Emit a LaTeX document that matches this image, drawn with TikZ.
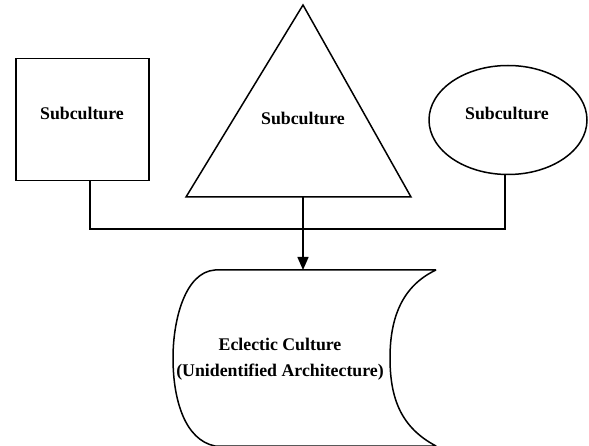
\documentclass[tikz,border=0pt]{standalone}
\usepackage{fontspec}
\setmainfont{Liberation Serif}
\usetikzlibrary{shapes.geometric,arrows.meta}
\begin{document}
\begin{tikzpicture}[x=1pt,y=-1pt,
  shp/.style={draw=black,line width=1.5pt},
  lbl/.style={font=\bfseries\fontsize{17.8}{26}\selectfont,align=center},
  conn/.style={line width=1.5pt},
]
\useasboundingbox (0,0) rectangle (589,446);
% square
\node[shp,rectangle,minimum width=133pt,minimum height=122pt,anchor=north west] (sq) at (15,58) {};
\node[lbl] (sqt) at (82,113) {Subculture};
% triangle
\coordinate (tapex) at (303,5);
\coordinate (tl) at (186,197);
\coordinate (tr) at (411,197);
\coordinate (tb) at (303,197);
\draw[shp,line join=miter] (tapex) -- (tr) -- (tl) -- cycle;
\node[lbl] (trt) at (303,118) {Subculture};
% ellipse
\node[shp,ellipse,minimum width=158pt,minimum height=109pt] (el) at (508,120) {};
\node[lbl] (elt) at (507,113) {Subculture};
% document shape
\coordinate (dtl) at (215,270);
\coordinate (dtr) at (436,270);
\coordinate (dbl) at (215,446);
\coordinate (dbr) at (436,446);
\coordinate (doctop) at (303,270);
\draw[shp,line join=round] (dtr) -- (dtl)
  .. controls (185,272) and (173,320) .. (173,358)
  .. controls (173,400) and (185,440) .. (dbl) -- (dbr)
  .. controls (402,428) and (390,400) .. (390,358)
  .. controls (390,318) and (402,286) .. (dtr);
\node[lbl] (doct) at (280,359) {Eclectic Culture\\(Unidentified Architecture)};
% connectors
\coordinate (jl) at (90,229);
\coordinate (jr) at (505,229);
\draw[conn] (sq.south -| jl) -- (jl) -- (jr) -- (el.south -| jr);
\draw[conn,-{Triangle[length=13pt,width=11pt]}] (tb) -- (doctop);
\end{tikzpicture}
\end{document}
